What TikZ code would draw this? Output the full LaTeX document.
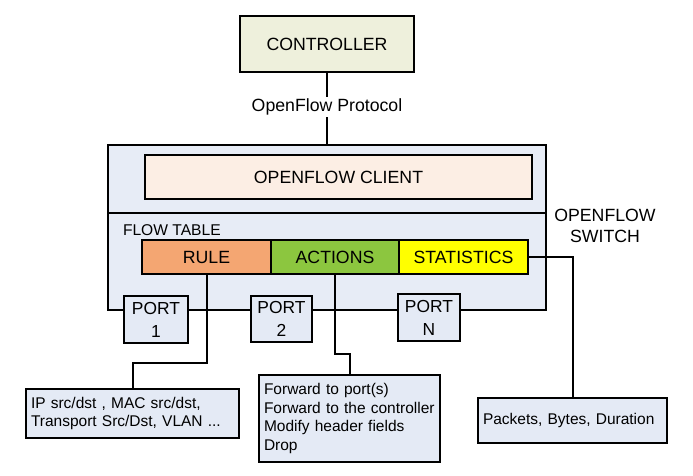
\documentclass[tikz,border=0pt]{standalone}
\usepackage{fontspec}
\setmainfont{Liberation Sans}
\usepackage{tikz}

\definecolor{ctrlfill}{HTML}{EEF0DC}
\definecolor{swfill}{HTML}{E7ECF6}
\definecolor{clientfill}{HTML}{FCEEE4}
\definecolor{rulefill}{HTML}{F4A672}
\definecolor{actfill}{HTML}{8CC63F}
\definecolor{statfill}{HTML}{FFFF00}
\definecolor{boxfill}{HTML}{E4EAF5}

\newcommand\bigf{\fontsize{17.7}{21}\selectfont}
\newcommand\smallf{\fontsize{15.5}{18.4}\selectfont\hyphenpenalty=10000}

\begin{document}
\begin{tikzpicture}[x=1pt,y=-1pt,line width=2pt]
\tikzstyle{box}=[draw,inner sep=0pt,font=\bigf]
\tikzstyle{entry}=[box,minimum height=34pt]
\tikzstyle{port}=[box,fill=boxfill,align=center,font=\fontsize{17.4}{23}\selectfont]
\tikzstyle{info}=[draw,fill=boxfill,inner xsep=5pt,inner ysep=0pt,align=left,font=\smallf]
\useasboundingbox (0,0) rectangle (693,476);
\node[box,fill=ctrlfill,minimum width=174pt,minimum height=56pt] (ctrl) at (327,44) {CONTROLLER};
\node[box,fill=swfill,minimum width=438pt,minimum height=165pt] (sw) at (327,227.5) {};
\coordinate (div) at (0,213);
\draw (sw.west |- div) -- (sw.east |- div);
\node[font=\bigf,inner sep=1pt] (proto) at (327,107) {OpenFlow Protocol};
\draw (ctrl) -- (proto) -- (sw);
\node[box,fill=clientfill,minimum width=387pt,minimum height=44pt] (client) at (338.5,177) {OPENFLOW CLIENT};
\node[font=\fontsize{15.6}{18}\selectfont,anchor=west,inner sep=0pt] (ft) at (122,230) {FLOW TABLE};
\node[entry,fill=rulefill,minimum width=129pt] (rule) at (206.5,257) {RULE};
\node[entry,fill=actfill,minimum width=128pt] (actions) at (335,257) {ACTIONS};
\node[entry,fill=statfill,minimum width=129pt] (stats) at (463.5,257) {STATISTICS};
\node[font=\bigf,align=center,inner sep=0pt] (swname) at (605,226) {OPENFLOW\\SWITCH};
% ports on the switch edge
\node[port,minimum width=64pt,minimum height=47pt] (p1) at (156,319.5) {PORT\\1};
\node[port,minimum width=61pt,minimum height=46pt] (p2) at (281.5,319) {PORT\\2};
\node[port,minimum width=62pt,minimum height=47pt] (pn) at (429,317.5) {PORT\\N};
% field boxes
\node[info,text width=203pt,minimum height=49pt] (match) at (132.5,413.5) {IP src/dst , MAC src/dst,\\Transport Src/Dst, VLAN ...};
\node[info,text width=171pt,minimum height=87pt] (fwd) at (349.5,418.5) {Forward to port(s)\\Forward to the controller\\Modify header fields\\Drop};
\node[info,text width=179pt,minimum height=45pt] (count) at (572.5,420.5) {Packets, Bytes, Duration};
\draw (rule.south) -- ++(0,88) -| (match.north);
\draw (actions.south) -- ++(0,79) -| (fwd.north);
\draw (stats.east) -| (count.north);
\end{tikzpicture}
\end{document}
